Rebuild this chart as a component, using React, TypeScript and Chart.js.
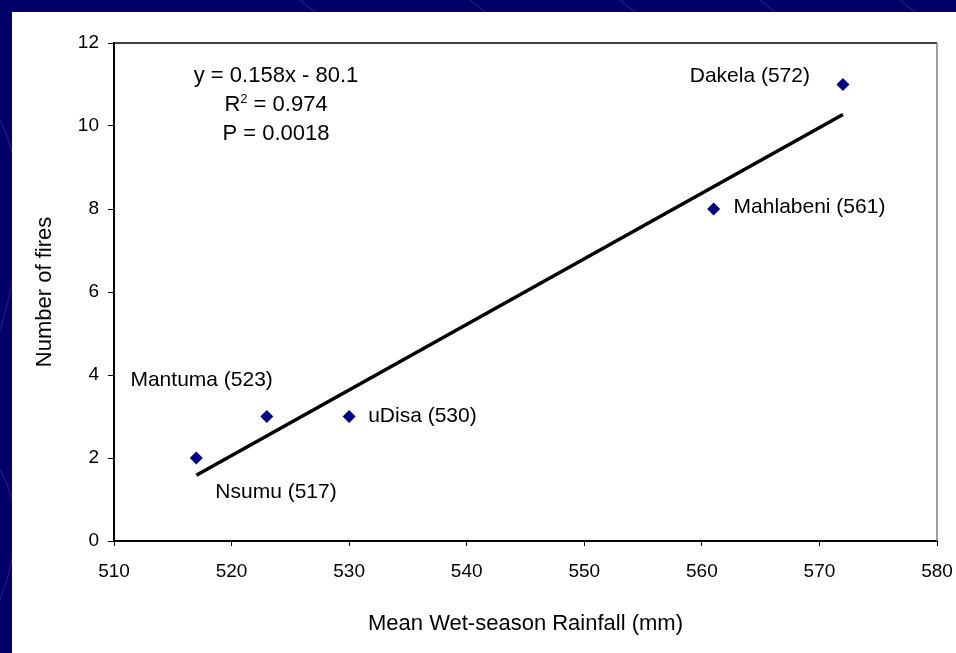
import { useEffect, useRef } from "react";
import { Chart, registerables } from "chart.js";

Chart.register(...registerables);

// Study sites with mean wet-season rainfall (mm) and number of fires
const sites = ["Nsumu", "Mantuma", "uDisa", "Mahlabeni", "Dakela"];
const rainfall = [517, 523, 530, 561, 572];
const fires = [2, 3, 3, 8, 11];

// Least-squares fit reported on the chart
const fitSlope = 0.158;
const fitIntercept = -80.1;
const fitRange = [517, 572];
const fitLines = ["y = 0.158x - 80.1", "= 0.974", "P = 0.0018"];

// Axis ranges and titles
const xRange = [510, 580];
const xStep = 10;
const yRange = [0, 12];
const yStep = 2;
const xTitle = "Mean Wet-season Rainfall (mm)";
const yTitle = "Number of fires";

const FONT = "'Liberation Sans', Arial, Helvetica, sans-serif";
const NAVY = "#000066";
const MARKER = "#000080";

// Where each site label sits relative to its marker (px), and which side it anchors on
const labelOffsets: { dx: number; dy: number; align: CanvasTextAlign }[] = [
  { dx: 19, dy: 34, align: "left" },
  { dx: 6, dy: -36, align: "right" },
  { dx: 19, dy: 0, align: "left" },
  { dx: 20, dy: -2, align: "left" },
  { dx: -33, dy: -8, align: "right" },
];

const backdrop = {
  id: "backdrop",
  beforeDraw(chart: Chart) {
    const { ctx, width, height } = chart;
    ctx.save();
    ctx.fillStyle = NAVY;
    ctx.fillRect(0, 0, width, height);
    // faint template swirls in the navy frame
    ctx.strokeStyle = "rgba(70,70,190,0.35)";
    ctx.lineWidth = 1.5;
    ctx.beginPath();
    ctx.moveTo(0, 120);
    ctx.quadraticCurveTo(40, 200, 0, 330);
    ctx.moveTo(0, 470);
    ctx.quadraticCurveTo(30, 520, 0, 600);
    for (const x0 of [300, 470, 620, 760, 900]) {
      ctx.moveTo(x0, 0);
      ctx.lineTo(x0 + 15, 12);
    }
    ctx.stroke();
    ctx.fillStyle = "#ffffff";
    ctx.fillRect(12, 12, width - 12, height - 12);
    ctx.restore();
  },
  afterDraw(chart: Chart) {
    const { ctx, chartArea } = chart;
    const xs = chart.scales.x;
    const ys = chart.scales.y;
    ctx.save();
    // plot frame: top and right edges
    ctx.strokeStyle = "#000000";
    ctx.lineWidth = 1.5;
    ctx.beginPath();
    ctx.moveTo(chartArea.left, chartArea.top);
    ctx.lineTo(chartArea.right, chartArea.top);
    ctx.stroke();
    ctx.strokeStyle = "#808080";
    ctx.beginPath();
    ctx.moveTo(chartArea.right, chartArea.top);
    ctx.lineTo(chartArea.right, chartArea.bottom);
    ctx.stroke();

    ctx.fillStyle = "#000000";
    ctx.textBaseline = "middle";

    // site labels
    ctx.font = `21px ${FONT}`;
    sites.forEach((s, i) => {
      const px = xs.getPixelForValue(rainfall[i]);
      const py = ys.getPixelForValue(fires[i]);
      const o = labelOffsets[i];
      ctx.textAlign = o.align;
      ctx.fillText(`${s} (${rainfall[i]})`, px + o.dx, py + o.dy);
    });

    // regression statistics
    const cx = 276;
    const big = `22px ${FONT}`;
    const small = `13px ${FONT}`;
    ctx.font = big;
    ctx.textAlign = "center";
    ctx.fillText(fitLines[0], cx, 76);
    ctx.fillText(fitLines[2], cx, 134);
    const rW = ctx.measureText("R").width;
    ctx.font = small;
    const supW = ctx.measureText("2").width;
    ctx.font = big;
    const restW = ctx.measureText(" " + fitLines[1]).width;
    let x = cx - (rW + supW + restW) / 2;
    ctx.textAlign = "left";
    ctx.fillText("R", x, 105);
    x += rW;
    ctx.font = small;
    ctx.fillText("2", x, 99);
    x += supW;
    ctx.font = big;
    ctx.fillText(" " + fitLines[1], x, 105);

    // axis titles
    ctx.font = `22px ${FONT}`;
    ctx.textAlign = "center";
    ctx.fillText(xTitle, (chartArea.left + chartArea.right) / 2, 624);
    ctx.translate(45, (chartArea.top + chartArea.bottom) / 2);
    ctx.rotate(-Math.PI / 2);
    ctx.fillText(yTitle, 0, 0);
    ctx.restore();
  },
};

export default function App() {
  const canvasRef = useRef<HTMLCanvasElement | null>(null);

  useEffect(() => {
    if (!canvasRef.current) return;
    const points = rainfall.map((r, i) => ({ x: r, y: fires[i] }));
    const fit = fitRange.map((r) => ({ x: r, y: fitSlope * r + fitIntercept }));
    const tickFont = { family: FONT, size: 19 };

    const chart = new Chart(canvasRef.current, {
      type: "scatter",
      data: {
        datasets: [
          {
            label: "Fit",
            type: "line",
            data: fit,
            borderColor: "#000000",
            borderWidth: 3.5,
            pointRadius: 0,
            fill: false,
            order: 2,
          },
          {
            label: "Sites",
            data: points,
            pointStyle: "rectRot",
            pointRadius: 6.5,
            backgroundColor: MARKER,
            borderColor: MARKER,
            borderWidth: 0,
            order: 1,
          },
        ],
      },
      options: {
        responsive: false,
        animation: false,
        devicePixelRatio: 1,
        layout: { padding: { top: 43, right: 19, left: 0, bottom: 0 } },
        plugins: { legend: { display: false }, tooltip: { enabled: false } },
        scales: {
          x: {
            type: "linear",
            min: xRange[0],
            max: xRange[1],
            ticks: { stepSize: xStep, font: tickFont, color: "#000000", padding: 14 },
            grid: { drawOnChartArea: false, color: "#000000", tickLength: 5, lineWidth: 1 },
            border: { color: "#000000", width: 2 },
            afterFit: (s: any) => {
              s.height = 112;
              s.paddingLeft = 0;
              s.paddingRight = 0;
            },
          },
          y: {
            type: "linear",
            min: yRange[0],
            max: yRange[1],
            ticks: { stepSize: yStep, font: tickFont, color: "#000000", padding: 9 },
            grid: { drawOnChartArea: false, color: "#000000", tickLength: 6, lineWidth: 1 },
            border: { color: "#000000", width: 2 },
            afterFit: (s: any) => {
              s.width = 114;
            },
          },
        },
      },
      plugins: [backdrop],
    });
    return () => chart.destroy();
  }, []);

  return (
    <div style={{ position: "fixed", left: 0, top: 0, width: 956, height: 653 }}>
      <canvas ref={canvasRef} width={956} height={653} style={{ display: "block" }} />
    </div>
  );
}
